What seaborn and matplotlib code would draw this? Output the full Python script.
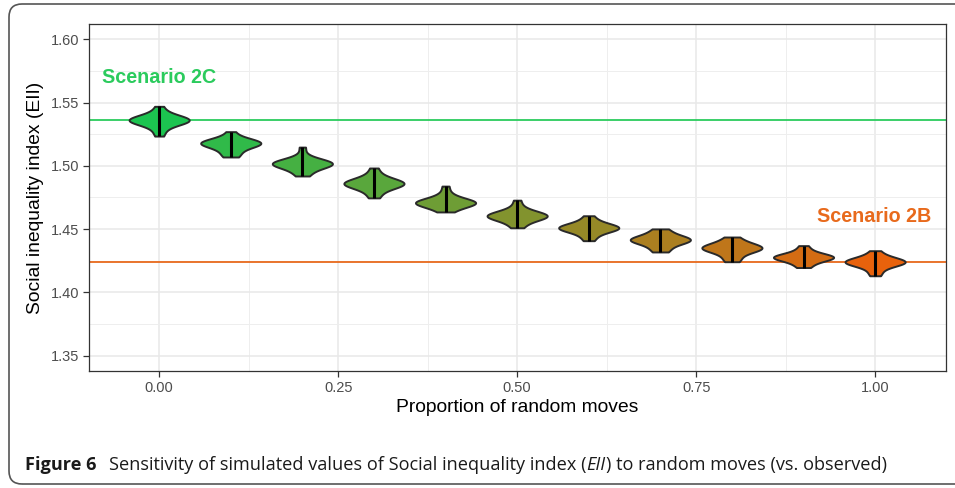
import numpy as np
import pandas as pd
import seaborn as sns
import matplotlib.pyplot as plt
from matplotlib.patches import FancyBboxPatch
from matplotlib.transforms import IdentityTransform
from matplotlib.ticker import MultipleLocator

# proportion of random moves (x categories)
proportions = [0.0, 0.1, 0.2, 0.3, 0.4, 0.5, 0.6, 0.7, 0.8, 0.9, 1.0]

# simulated EII values (min ... mode cluster ... max)
eii_sims = [
    [1.5235, 1.528, 1.532, 1.5345, 1.535, 1.5355, 1.536, 1.536, 1.536, 1.5365, 1.537, 1.5375, 1.539, 1.542, 1.547],
    [1.507, 1.5085, 1.511, 1.514, 1.5165, 1.517, 1.5175, 1.518, 1.518, 1.518, 1.5185, 1.519, 1.5195, 1.522, 1.527],
    [1.492, 1.494, 1.497, 1.500, 1.5005, 1.501, 1.5015, 1.502, 1.502, 1.502, 1.5025, 1.503, 1.5035, 1.507, 1.5148],
    [1.4747, 1.478, 1.482, 1.4845, 1.485, 1.4855, 1.486, 1.486, 1.486, 1.4865, 1.487, 1.4875, 1.490, 1.493, 1.4983],
    [1.4636, 1.4655, 1.468, 1.4695, 1.470, 1.4705, 1.471, 1.471, 1.471, 1.4715, 1.472, 1.4725, 1.475, 1.478, 1.484],
    [1.4511, 1.4535, 1.457, 1.459, 1.4595, 1.460, 1.4604, 1.4604, 1.4604, 1.461, 1.4615, 1.462, 1.464, 1.467, 1.4729],
    [1.4409, 1.444, 1.447, 1.4495, 1.450, 1.4505, 1.451, 1.451, 1.451, 1.4515, 1.452, 1.4525, 1.4545, 1.457, 1.4606],
    [1.432, 1.4335, 1.436, 1.440, 1.4405, 1.441, 1.4415, 1.4415, 1.4415, 1.442, 1.4425, 1.443, 1.446, 1.4485, 1.4502],
    [1.4243, 1.426, 1.429, 1.4335, 1.434, 1.4345, 1.435, 1.435, 1.435, 1.4355, 1.436, 1.4365, 1.439, 1.4415, 1.4438],
    [1.4197, 1.4215, 1.424, 1.4265, 1.427, 1.4275, 1.4277, 1.4277, 1.4277, 1.428, 1.4285, 1.429, 1.431, 1.4335, 1.437],
    [1.4132, 1.416, 1.420, 1.4225, 1.423, 1.4235, 1.424, 1.424, 1.424, 1.4245, 1.425, 1.4255, 1.427, 1.4295, 1.433],
]

# observed scenario values
scenario_2c = 1.536
scenario_2b = 1.424

GREEN = "#2BCB5D"
ORANGE = "#E86A1C"

rows = []
for p, vals in zip(proportions, eii_sims):
    for v in vals:
        rows.append({"prop": p, "grp": f"{p:.1f}", "eii": v})
df = pd.DataFrame(rows)

sns.set_style("white")
plt.rcParams["font.family"] = ["Liberation Sans", "DejaVu Sans"]

fig = plt.figure(figsize=(9.55, 4.88), dpi=100)
ax = fig.add_axes([89 / 955, 1 - 371 / 488, (946 - 89) / 955, (371 - 24) / 488])

pal = sns.blend_palette(["#1CC450", "#E8620C"], len(proportions))

# reference lines first (under the violins)
ax.axhline(scenario_2c, color=GREEN, lw=1.3, zorder=1)
ax.axhline(scenario_2b, color=ORANGE, lw=1.3, zorder=1)

sns.violinplot(
    data=df, x="prop", y="eii", hue="grp", palette=pal,
    native_scale=True, dodge=False, legend=False, saturation=1,
    cut=0, inner=None, width=0.84, density_norm="width", bw_adjust=1.15,
    linewidth=1.4, linecolor="#2A2A2A", ax=ax, zorder=2,
)

# vertical range line inside each violin
mins = [min(v) for v in eii_sims]
maxs = [max(v) for v in eii_sims]
ax.vlines(proportions, mins, maxs, color="black", lw=2.2, zorder=3)

ax.text(-0.08, 1.570, "Scenario 2C", color=GREEN, fontsize=14.2,
        fontweight="bold", va="center", ha="left")
ax.text(1.079, 1.460, "Scenario 2B", color=ORANGE, fontsize=14.2,
        fontweight="bold", va="center", ha="right")

ax.set_xlim(-0.098, 1.099)
ax.set_ylim(1.338, 1.612)
ax.xaxis.set_minor_locator(MultipleLocator(0.125))
ax.yaxis.set_minor_locator(MultipleLocator(0.025))
ax.set_xticks([0, 0.25, 0.5, 0.75, 1.0], ["0.00", "0.25", "0.50", "0.75", "1.00"])
ax.set_yticks([1.35, 1.40, 1.45, 1.50, 1.55, 1.60],
              ["1.35", "1.40", "1.45", "1.50", "1.55", "1.60"])

ax.set_axisbelow(True)
ax.grid(which="major", color="#E8E8E8", lw=1.1)
ax.grid(which="minor", color="#EEEEEE", lw=0.7)
for s in ax.spines.values():
    s.set_color("#333333")
    s.set_linewidth(0.9)
ax.tick_params(which="major", length=4, width=0.9, color="#333333",
               labelcolor="#4D4D4D", labelsize=10.5, pad=3, left=True, bottom=True)
ax.tick_params(which="minor", length=0)

ax.set_xlabel("Proportion of random moves", fontsize=13.9, color="black", labelpad=3)
ax.set_ylabel("Social inequality index (EII)", fontsize=13.9, color="black", labelpad=5)

# rounded frame around the figure (right edge runs off the image)
frame = FancyBboxPatch((9, 4), 1010, 480, boxstyle="round,pad=0,rounding_size=13",
                       transform=IdentityTransform(), fill=False,
                       edgecolor="#555555", lw=1.2)
fig.add_artist(frame)

# caption with mixed styles
fig.canvas.draw()
r = fig.canvas.get_renderer()
cap_font = ["Open Sans", "DejaVu Sans"]
parts = [
    ("Figure 6", dict(fontweight="bold"), 12),
    ("Sensitivity of simulated values of Social inequality index (", {}, 0),
    ("EII", dict(style="italic"), 1),
    (") to random moves (vs. observed)", {}, 0),
]
xpix = 25
for txt, kw, gap in parts:
    t = fig.text(xpix / 955, 1 - 470 / 488, txt, fontsize=13.05, family=cap_font,
                 color="#1A1A1A", va="baseline", ha="left", **kw)
    bb = t.get_window_extent(r)
    xpix = bb.x1 + gap

fig.savefig("out.png", dpi=100)
